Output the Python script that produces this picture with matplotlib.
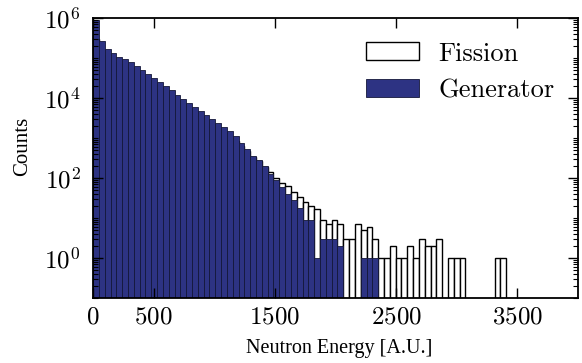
import matplotlib
matplotlib.use('Agg')
import matplotlib.pyplot as plt
import numpy as np
from matplotlib.ticker import FixedLocator, LogLocator, NullFormatter

plt.rcParams['font.family'] = 'serif'
plt.rcParams['font.serif'] = ['cmr10']
plt.rcParams['mathtext.fontset'] = 'cm'
plt.rcParams['axes.formatter.use_mathtext'] = True

# histogram bins, width 48 A.U.
bin_width = 48
n_bins = 84

# counts per bin
generator = [900000, 270000, 166000, 135000, 107000, 93000, 79000, 63000, 50000, 40000,
             32000, 25000, 20000, 16000, 12000, 9500, 7600, 6000, 4800, 3800,
             3000, 2400, 1900, 1500, 1100, 760, 540, 360, 280, 200,
             130, 90, 60, 40, 28, 18, 9, 9, 1, 3,
             3, 3, 2, 0, 0, 0, 1, 1, 1]
fission = [300000, 120000, 90000, 80000, 70000, 60000, 50000, 40000, 32000, 26000,
           21000, 17000, 14000, 11000, 9000, 7000, 5600, 4500, 3600, 2900,
           2300, 1800, 1400, 1100, 850, 650, 480, 340, 260, 190,
           140, 100, 75, 63, 45, 33, 25, 20, 17, 9,
           7, 9, 7, 3, 3, 7, 5, 6, 3, 1,
           1, 2, 1, 1, 2, 1, 3, 2, 2, 3,
           0, 1, 1, 1, 0, 0, 0, 0, 0, 1,
           1]

xtick_vals = [0, 500, 1500, 2500, 3500]
ytick_vals = [1, 1e2, 1e4, 1e6]

edges = np.arange(n_bins + 1) * bin_width
fis = np.zeros(n_bins)
fis[:len(fission)] = fission
gen = np.zeros(n_bins)
gen[:len(generator)] = generator
centers = edges[:-1] + bin_width / 2

fig = plt.figure(figsize=(5.82, 3.63), dpi=100)
ax = fig.add_axes([0.16, 0.179, 0.833, 0.771])
ax.set_yscale('log')

ax.hist(centers, bins=edges, weights=fis, color='white', edgecolor='black',
        linewidth=1.0, label='Fission')
ax.hist(centers, bins=edges, weights=gen, color='#2d3383', edgecolor='#15183a',
        linewidth=0.6, label='Generator')

ax.set_xlim(0, 4000)
ax.set_ylim(1e-1, 1e6)
ax.xaxis.set_major_locator(FixedLocator(xtick_vals))
ax.yaxis.set_major_locator(FixedLocator(ytick_vals))
ax.yaxis.set_minor_locator(LogLocator(base=10, subs=np.arange(1, 10), numticks=100))
ax.yaxis.set_minor_formatter(NullFormatter())

ax.tick_params(which='both', direction='in', top=True, right=True, labelsize=18)
ax.tick_params(which='major', length=7, width=1.0)
ax.tick_params(axis='y', which='major', pad=9)
ax.tick_params(axis='x', which='major', pad=6)
ax.tick_params(which='minor', length=3.5, width=0.8)
for s in ax.spines.values():
    s.set_linewidth(1.3)

ax.set_xlabel('Neutron Energy [A.U.]', fontsize=14.5, family='Liberation Serif')
ax.xaxis.set_label_coords(0.508, -0.145)
ax.set_ylabel('Counts', fontsize=15, family='Liberation Serif')
ax.yaxis.set_label_coords(-0.125, 0.543)

ax.legend(loc='upper right', frameon=False, fontsize=19, handlelength=2.0,
          handleheight=0.68, labelspacing=0.48, handletextpad=0.72,
          borderaxespad=0.5)

fig.savefig('out.png', dpi=100)
